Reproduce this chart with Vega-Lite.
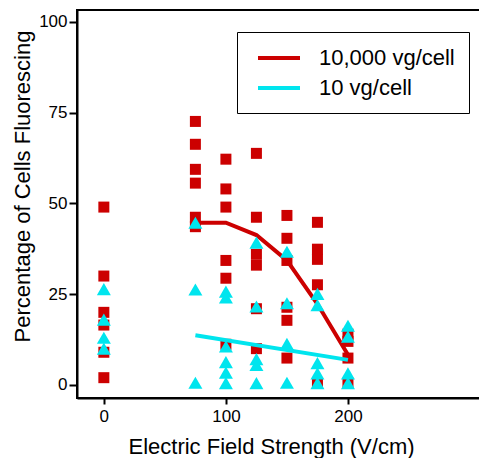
{
  "$schema": "https://vega.github.io/schema/vega-lite/v6.json",
  "width": 404,
  "height": 388,
  "autosize": {"type": "none"},
  "padding": {"left": 77, "top": 10, "right": 0, "bottom": 60},
  "background": "white",
  "config": {
    "font": "Liberation Sans",
    "view": {"stroke": "black", "strokeWidth": 2},
    "axis": {
      "grid": false,
      "domainColor": "black",
      "domainWidth": 2,
      "tickColor": "black",
      "tickWidth": 2,
      "labelColor": "black",
      "titleColor": "black",
      "labelFont": "Liberation Sans",
      "titleFont": "Liberation Sans",
      "labelFontSize": 17,
      "titleFontSize": 22,
      "titleFontWeight": "normal"
    },
    "legend": {
      "labelFont": "Liberation Sans",
      "labelFontSize": 22,
      "labelColor": "black"
    }
  },
  "datasets": {
    "points": [
      {"x": 0, "y": 49, "g": "10,000 vg/cell"},
      {"x": 0, "y": 30, "g": "10,000 vg/cell"},
      {"x": 0, "y": 20, "g": "10,000 vg/cell"},
      {"x": 0, "y": 16.5, "g": "10,000 vg/cell"},
      {"x": 0, "y": 9, "g": "10,000 vg/cell"},
      {"x": 0, "y": 2, "g": "10,000 vg/cell"},
      {"x": 75, "y": 72.6, "g": "10,000 vg/cell"},
      {"x": 75, "y": 66.3, "g": "10,000 vg/cell"},
      {"x": 75, "y": 59.4, "g": "10,000 vg/cell"},
      {"x": 75, "y": 55.6, "g": "10,000 vg/cell"},
      {"x": 75, "y": 46.2, "g": "10,000 vg/cell"},
      {"x": 75, "y": 43.6, "g": "10,000 vg/cell"},
      {"x": 100, "y": 62.2, "g": "10,000 vg/cell"},
      {"x": 100, "y": 54, "g": "10,000 vg/cell"},
      {"x": 100, "y": 49, "g": "10,000 vg/cell"},
      {"x": 100, "y": 34.3, "g": "10,000 vg/cell"},
      {"x": 100, "y": 29.4, "g": "10,000 vg/cell"},
      {"x": 100, "y": 11.2, "g": "10,000 vg/cell"},
      {"x": 125, "y": 63.8, "g": "10,000 vg/cell"},
      {"x": 125, "y": 46.2, "g": "10,000 vg/cell"},
      {"x": 125, "y": 36, "g": "10,000 vg/cell"},
      {"x": 125, "y": 33, "g": "10,000 vg/cell"},
      {"x": 125, "y": 21, "g": "10,000 vg/cell"},
      {"x": 125, "y": 10, "g": "10,000 vg/cell"},
      {"x": 150, "y": 46.7, "g": "10,000 vg/cell"},
      {"x": 150, "y": 40.4, "g": "10,000 vg/cell"},
      {"x": 150, "y": 34.3, "g": "10,000 vg/cell"},
      {"x": 150, "y": 21.4, "g": "10,000 vg/cell"},
      {"x": 150, "y": 17.8, "g": "10,000 vg/cell"},
      {"x": 150, "y": 7.4, "g": "10,000 vg/cell"},
      {"x": 175, "y": 44.8, "g": "10,000 vg/cell"},
      {"x": 175, "y": 37.4, "g": "10,000 vg/cell"},
      {"x": 175, "y": 34.6, "g": "10,000 vg/cell"},
      {"x": 175, "y": 27.6, "g": "10,000 vg/cell"},
      {"x": 175, "y": 0.5, "g": "10,000 vg/cell"},
      {"x": 200, "y": 14, "g": "10,000 vg/cell"},
      {"x": 200, "y": 12, "g": "10,000 vg/cell"},
      {"x": 200, "y": 7.4, "g": "10,000 vg/cell"},
      {"x": 200, "y": 0.5, "g": "10,000 vg/cell"},
      {"x": 0, "y": 26.4, "g": "10 vg/cell"},
      {"x": 0, "y": 18, "g": "10 vg/cell"},
      {"x": 0, "y": 13, "g": "10 vg/cell"},
      {"x": 0, "y": 10, "g": "10 vg/cell"},
      {"x": 75, "y": 44.7, "g": "10 vg/cell"},
      {"x": 75, "y": 26.3, "g": "10 vg/cell"},
      {"x": 75, "y": 0.6, "g": "10 vg/cell"},
      {"x": 100, "y": 25.7, "g": "10 vg/cell"},
      {"x": 100, "y": 24.1, "g": "10 vg/cell"},
      {"x": 100, "y": 10.6, "g": "10 vg/cell"},
      {"x": 100, "y": 6.3, "g": "10 vg/cell"},
      {"x": 100, "y": 3.4, "g": "10 vg/cell"},
      {"x": 100, "y": 0.5, "g": "10 vg/cell"},
      {"x": 125, "y": 39.2, "g": "10 vg/cell"},
      {"x": 125, "y": 21.6, "g": "10 vg/cell"},
      {"x": 125, "y": 7.1, "g": "10 vg/cell"},
      {"x": 125, "y": 5.5, "g": "10 vg/cell"},
      {"x": 125, "y": 0.5, "g": "10 vg/cell"},
      {"x": 150, "y": 36.7, "g": "10 vg/cell"},
      {"x": 150, "y": 22.5, "g": "10 vg/cell"},
      {"x": 150, "y": 11.3, "g": "10 vg/cell"},
      {"x": 150, "y": 0.6, "g": "10 vg/cell"},
      {"x": 175, "y": 25.1, "g": "10 vg/cell"},
      {"x": 175, "y": 22, "g": "10 vg/cell"},
      {"x": 175, "y": 6, "g": "10 vg/cell"},
      {"x": 175, "y": 3.2, "g": "10 vg/cell"},
      {"x": 175, "y": 0.5, "g": "10 vg/cell"},
      {"x": 200, "y": 16.3, "g": "10 vg/cell"},
      {"x": 200, "y": 13.3, "g": "10 vg/cell"},
      {"x": 200, "y": 3.2, "g": "10 vg/cell"},
      {"x": 200, "y": 0.5, "g": "10 vg/cell"}
    ],
    "lines": [
      {"x": 75, "y": 44.7, "g": "10,000 vg/cell"},
      {"x": 100, "y": 44.7, "g": "10,000 vg/cell"},
      {"x": 125, "y": 41.3, "g": "10,000 vg/cell"},
      {"x": 150, "y": 34.3, "g": "10,000 vg/cell"},
      {"x": 175, "y": 22.3, "g": "10,000 vg/cell"},
      {"x": 200, "y": 8.3, "g": "10,000 vg/cell"},
      {"x": 75, "y": 13.7, "g": "10 vg/cell"},
      {"x": 200, "y": 6.9, "g": "10 vg/cell"}
    ]
  },
  "encoding": {
    "x": {
      "field": "x", "type": "quantitative",
      "scale": {"domain": [-22, 309], "nice": false, "zero": false},
      "axis": {
        "values": [0, 100, 200], "tickSize": 6, "labelPadding": 4,
        "title": "Electric Field Strength (V/cm)",
        "titleY": 48, "titleBaseline": "middle", "titleX": 194, "titleAnchor": "middle"
      }
    },
    "y": {
      "field": "y", "type": "quantitative",
      "scale": {"domain": [-3.6, 103.3], "nice": false, "zero": false},
      "axis": {
        "values": [0, 25, 50, 75, 100], "tickSize": 8, "labelPadding": 2,
        "title": "Percentage of Cells Fluorescing",
        "titleX": -55, "titleY": 176, "titleBaseline": "middle", "titleAnchor": "middle"
      }
    }
  },
  "layer": [
    {
      "data": {"name": "points"},
      "transform": [{"filter": "datum.g === '10,000 vg/cell'"}],
      "mark": {"type": "point", "shape": "square", "filled": true, "size": 121, "color": "#CC0000", "opacity": 1}
    },
    {
      "data": {"name": "lines"},
      "mark": {"type": "line", "strokeWidth": 4},
      "encoding": {
        "color": {
          "field": "g", "type": "nominal",
          "scale": {"domain": ["10,000 vg/cell", "10 vg/cell"], "range": ["#CC0000", "#00E5EE"]},
          "sort": ["10,000 vg/cell", "10 vg/cell"],
          "legend": {
            "title": null,
            "orient": "none",
            "legendX": 160,
            "legendY": 22,
            "strokeColor": "black",
            "fillColor": "white",
            "padding": 14,
            "symbolType": "M-2.1,0L2.1,0",
            "symbolSize": 400,
            "symbolStrokeWidth": 4,
            "symbolOffset": 16,
            "labelOffset": 28,
            "rowPadding": 7,
            "labelFontSize": 22
          }
        }
      }
    },
    {
      "data": {"name": "points"},
      "transform": [{"filter": "datum.g === '10 vg/cell'"}],
      "mark": {"type": "point", "shape": "triangle-up", "filled": true, "size": 196, "color": "#00E5EE", "opacity": 1}
    }
  ]
}
